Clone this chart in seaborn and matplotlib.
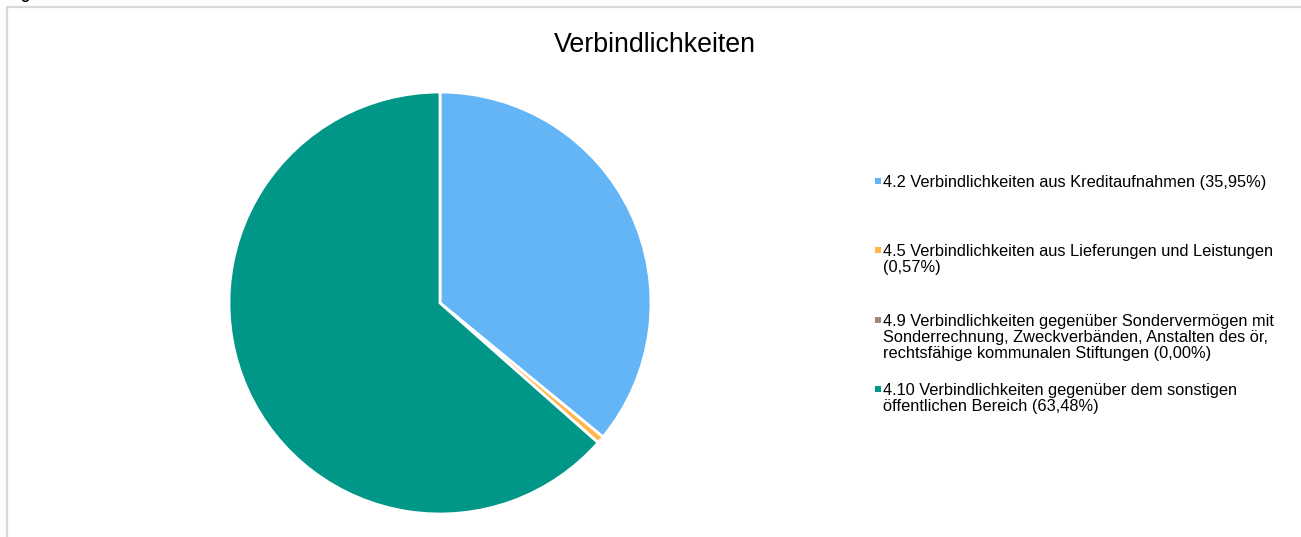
import matplotlib
matplotlib.use("Agg")
import matplotlib.pyplot as plt
from matplotlib.lines import Line2D
from matplotlib.patches import Rectangle
import seaborn as sns

sns.set_theme(style="white")
plt.rcParams['font.family'] = ['Liberation Sans', 'DejaVu Sans']

title = "Verbindlichkeiten"
labels = [
    "4.2 Verbindlichkeiten aus Kreditaufnahmen (35,95%)",
    "4.5 Verbindlichkeiten aus Lieferungen und Leistungen\n(0,57%)",
    "4.9 Verbindlichkeiten gegenüber Sondervermögen mit\nSonderrechnung, Zweckverbänden, Anstalten des ör,\nrechtsfähige kommunalen Stiftungen (0,00%)",
    "4.10 Verbindlichkeiten gegenüber dem sonstigen\nöffentlichen Bereich (63,48%)",
]
values = [35.95, 0.57, 0.00, 63.48]
colors = ["#64B5F6", "#FFB74D", "#A1887F", "#009688"]

W, H = 1301, 537
fig = plt.figure(figsize=(W / 100, H / 100), dpi=100)
fig.patch.set_facecolor("white")

# pie axes: center (440, 303), radius 211 px
cx, cy, r = 440, 303, 211
ax = fig.add_axes([(cx - r) / W, (H - cy - r) / H, 2 * r / W, 2 * r / H])
ax.pie(values, colors=colors, startangle=90, counterclock=False,
       wedgeprops=dict(edgecolor="white", linewidth=2))
ax.set_xlim(-1, 1)
ax.set_ylim(-1, 1)
ax.set_aspect("equal")
ax.axis("off")

# title
fig.text(655 / W, 1 - 45 / H, title, ha="center", va="center", fontsize=19.3, color="#000000")

# frame lines (light gray)
fig.add_artist(Line2D([7 / W, 7 / W], [0, 1 - 7 / H], color="#D9D9D9", linewidth=1.6, transform=fig.transFigure))
fig.add_artist(Line2D([7 / W, 1], [1 - 7 / H, 1 - 7 / H], color="#D9D9D9", linewidth=1.6, transform=fig.transFigure))

# clipped text fragment at top-left (cut off in the reference as well)
fig.text(20 / W, 1 + 1 / H, "g", ha="left", va="baseline", fontsize=11, fontweight="bold", color="black")

# legend (manual, Excel-like top-aligned markers)
fs = 11.8
entry_firstline = [181, 250, 320, 389]
for lab, col, yy in zip(labels, colors, entry_firstline):
    fig.patches.append(Rectangle((875 / W, 1 - (yy + 3) / H), 6 / W, 6 / H,
                                 transform=fig.transFigure, facecolor=col, edgecolor="none"))
    if "\n" in lab:
        fig.text(883 / W, 1 - (yy - 6) / H, lab, ha="left", va="top", fontsize=fs,
                 color="#000000", linespacing=1.1, transform=fig.transFigure)
    else:
        fig.text(883 / W, 1 - (yy + 1) / H, lab, ha="left", va="center", fontsize=fs,
                 color="#000000", transform=fig.transFigure)

fig.savefig("out.png", dpi=100, facecolor="white")
